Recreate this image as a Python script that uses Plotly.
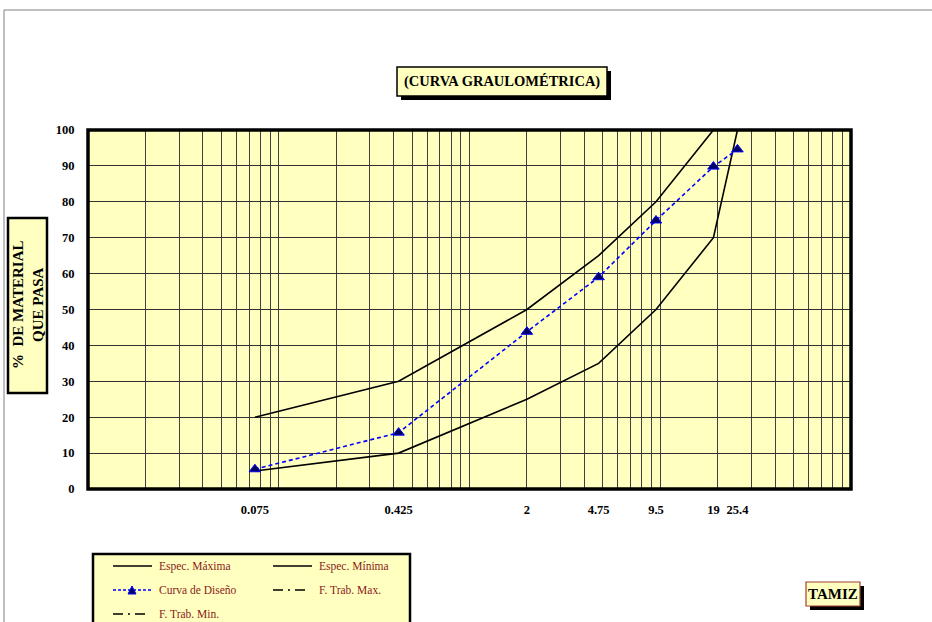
import plotly.graph_objects as go

# ---- data ----
tamiz = [0.075, 0.425, 2, 4.75, 9.5, 19, 25.4]
tamiz_labels = ["0.075", "0.425", "2", "4.75", "9.5", "19", "25.4"]
espec_max = [20, 30, 50, 65, 80, 100, 100]
espec_min = [5, 10, 25, 35, 50, 70, 100]
curva_diseno = [5.5, 15.7, 43.8, 59, 74.8, 89.8, 94.6]
y_ticks = [0, 10, 20, 30, 40, 50, 60, 70, 80, 90, 100]

W, H = 932, 622
L, R, T, B = 88, 851, 130, 489  # plot area in pixels

def px(x):
    return (x - L) / (R - L)

def py(y):
    return (B - y) / (B - T)

YELLOW = "#FFFFC0"
SERIF = "Liberation Serif"

fig = go.Figure()
fig.add_trace(go.Scatter(x=tamiz, y=espec_max, mode="lines", name="Espec. Máxima",
                         line=dict(color="black", width=1.6), showlegend=False))
fig.add_trace(go.Scatter(x=tamiz, y=espec_min, mode="lines", name="Espec. Mínima",
                         line=dict(color="black", width=1.6), showlegend=False))
fig.add_trace(go.Scatter(x=tamiz, y=curva_diseno, mode="lines+markers", name="Curva de Diseño",
                         line=dict(color="#0000FF", width=1.6, dash="4px,3px"),
                         marker=dict(symbol="triangle-up", size=10, color="#000060",
                                     line=dict(color="#0000FF", width=1)),
                         showlegend=False, cliponaxis=False))

minor_vals = []
for d in [-2, -1, 0, 1]:
    for k in range(1, 10):
        minor_vals.append(k * 10 ** d)
minor_vals.append(100)

tickfont = dict(family=SERIF, size=12.5, color="black", weight="bold")

fig.update_layout(
    width=W, height=H,
    margin=dict(l=L, r=W - R, t=T, b=H - B),
    paper_bgcolor="white",
    plot_bgcolor=YELLOW,
    showlegend=False,
    xaxis=dict(type="log", range=[-2, 2], tickvals=tamiz, ticktext=tamiz_labels,
               showgrid=False, zeroline=False, showline=False,
               ticks="outside", ticklen=9, tickcolor="rgba(0,0,0,0)",
               tickfont=tickfont,
               minor=dict(tickvals=minor_vals, showgrid=True, gridcolor="#404040",
                          gridwidth=1, ticks="")),
    yaxis=dict(range=[0, 100], tickvals=y_ticks, showgrid=True, gridcolor="#303030",
               gridwidth=1, zeroline=False, showline=False,
               ticks="outside", ticklen=10, tickcolor="rgba(0,0,0,0)",
               tickfont=tickfont),
)

shapes = []
# outer chart border (gray)
shapes.append(dict(type="rect", xref="paper", yref="paper",
                   x0=px(4), x1=px(940), y0=py(10), y1=py(640),
                   line=dict(color="#808080", width=1), layer="below"))
# plot border
shapes.append(dict(type="rect", xref="paper", yref="paper",
                   x0=0, x1=1, y0=0, y1=1,
                   line=dict(color="black", width=3.5), layer="above"))

def boxed(x0, y0, x1, y1, fill, border, bw, shadow=0):
    if shadow:
        shapes.append(dict(type="rect", xref="paper", yref="paper",
                           x0=px(x0 + shadow), x1=px(x1 + shadow),
                           y0=py(y0 + shadow), y1=py(y1 + shadow),
                           fillcolor="black", line=dict(width=0), layer="above"))
    shapes.append(dict(type="rect", xref="paper", yref="paper",
                       x0=px(x0), x1=px(x1), y0=py(y0), y1=py(y1),
                       fillcolor=fill, line=dict(color=border, width=bw), layer="above"))

# title box
boxed(397, 67, 607, 96, YELLOW, "black", 1.5, shadow=4)
# y-axis title box
boxed(8, 218, 47, 393, YELLOW, "black", 2.5)
# TAMIZ box
boxed(806, 582, 860, 606, YELLOW, "#A04030", 1.2, shadow=4)
# legend box
boxed(93, 554, 410, 660, YELLOW, "black", 2.5)

annotations = []
def ann(text, x, y, size, color="black", bold=True, angle=0, xanchor="center", family=SERIF):
    annotations.append(dict(text=text, xref="paper", yref="paper", x=px(x), y=py(y),
                            xanchor=xanchor, yanchor="middle", showarrow=False,
                            textangle=angle,
                            font=dict(family=family, size=size, color=color,
                                      weight="bold" if bold else "normal")))

ann("(CURVA GRAULOMÉTRICA)", 502, 81, 14.5)
ann("%  DE MATERIAL<br>QUE PASA", 28, 305, 15, angle=-90)
ann("TAMIZ", 833, 594, 15)

# legend entries
LEG_RED = "#8B1A1A"
rows = [566, 590, 614]
entries = [
    ("Espec. Máxima", 113, rows[0], "solid"),
    ("Espec. Mínima", 273, rows[0], "solid"),
    ("Curva de Diseño", 113, rows[1], "curva"),
    ("F. Trab. Max.", 273, rows[1], "dashdot"),
    ("F. Trab. Min.", 113, rows[2], "dashdot"),
]
for label, sx, sy, style in entries:
    if style == "solid":
        shapes.append(dict(type="line", xref="paper", yref="paper",
                           x0=px(sx), x1=px(sx + 39), y0=py(sy), y1=py(sy),
                           line=dict(color="black", width=1.6), layer="above"))
    elif style == "dashdot":
        shapes.append(dict(type="line", xref="paper", yref="paper",
                           x0=px(sx), x1=px(sx + 33), y0=py(sy), y1=py(sy),
                           line=dict(color="black", width=1.6, dash="10px,5px,2px,5px"),
                           layer="above"))
    else:
        shapes.append(dict(type="line", xref="paper", yref="paper",
                           x0=px(sx), x1=px(sx + 39), y0=py(sy), y1=py(sy),
                           line=dict(color="#0000FF", width=1.6, dash="3px,2px"),
                           layer="above"))
        cx = sx + 19
        path = "M {} {} L {} {} L {} {} Z".format(
            px(cx - 4), py(sy + 4), px(cx + 4), py(sy + 4), px(cx), py(sy - 4))
        shapes.append(dict(type="path", xref="paper", yref="paper", path=path,
                           fillcolor="#000060", line=dict(color="#0000FF", width=1),
                           layer="above"))
    ann(label, sx + 44, sy, 11.5, color=LEG_RED, bold=False, xanchor="left")

fig.update_layout(shapes=shapes, annotations=annotations)
fig.write_html("out.html", config={"displayModeBar": False},
               post_script="document.body.style.margin='0';document.body.style.overflow='hidden';")
